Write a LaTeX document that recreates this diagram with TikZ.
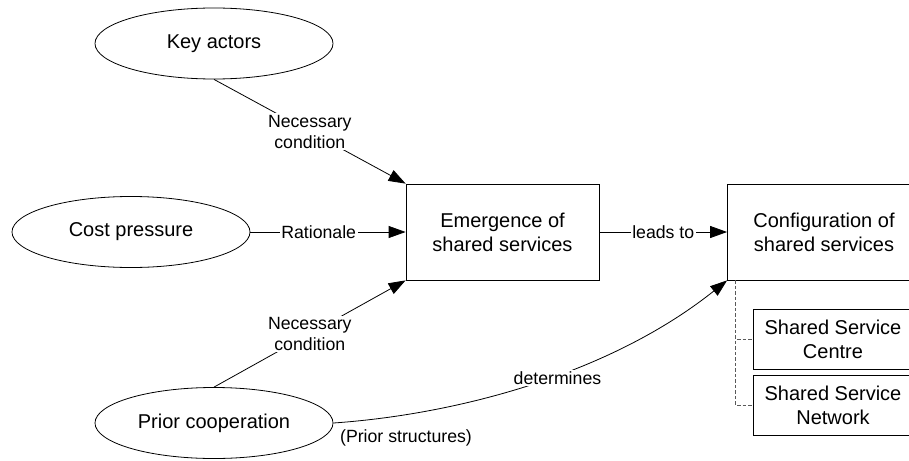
\documentclass[tikz,border=0pt]{standalone}
\usepackage{fontspec}
\setmainfont{Liberation Sans}
\usetikzlibrary{shapes.geometric,arrows.meta,calc}

\tikzset{
  cause/.style={ellipse, draw, line width=0.8pt, inner sep=0pt,
    minimum width=238pt, minimum height=71pt,
    font=\fontsize{20}{24}\selectfont},
  block/.style={rectangle, draw, line width=0.8pt, inner sep=0pt,
    minimum width=193pt, minimum height=96pt, align=center,
    font=\fontsize{20}{24}\selectfont},
  subblock/.style={rectangle, draw, line width=0.8pt, inner sep=0pt,
    minimum width=160pt, minimum height=60pt, align=center,
    font=\fontsize{20}{24}\selectfont},
  link/.style={line width=0.8pt, -{Triangle[length=17pt,width=12pt]}},
  tag/.style={fill=white, inner sep=1.5pt, align=center,
    font=\fontsize{17.7}{21}\selectfont},
  tree/.style={line width=0.8pt, draw=black!65, dash pattern=on 3.5pt off 2pt},
}

\begin{document}
\begin{tikzpicture}[x=1pt, y=-1pt]
  \useasboundingbox (0,0) rectangle (909,460);
  \clip (0,0) rectangle (909,460);

  % drivers
  \node[cause] (ka) at (214,43.5) {Key actors};
  \node[cause] (cp) at (131,232) {Cost pressure};
  \node[cause] (pc) at (214,423) {Prior cooperation};

  % outcomes
  \node[block] (em) at (502.5,232) {Emergence of\\shared services};
  \node[block] (cf) at (824,232) {Configuration of\\shared services};
  \node[subblock] (ssc) at (833,339) {Shared Service\\Centre};
  \node[subblock] (ssn) at (833,405) {Shared Service\\Network};

  % relations
  \draw[link] (ka.south) -- node[tag] {Necessary\\condition} (em.north west);
  \draw[link] (cp.east) -- node[tag, pos=0.44] {Rationale} (em.west);
  \draw[link] (pc.north) -- node[tag] {Necessary\\condition} (em.south west);
  \draw[link] (em.east) -- node[tag] {leads to} (cf.west);
  \draw[link] (pc.east) .. controls (450,415) and (606,377) .. (cf.south west)
    node[tag, pos=0.57, yshift=-3pt] {determines};
  \node[tag, fill=none] (ps) at (406,438) {(Prior structures)};

  % configuration types
  \coordinate (trunk) at ($(cf.south west)+(8,0)$);
  \draw[tree] (trunk) |- (ssc.west);
  \draw[tree] (trunk) |- (ssn.west);
\end{tikzpicture}
\end{document}
